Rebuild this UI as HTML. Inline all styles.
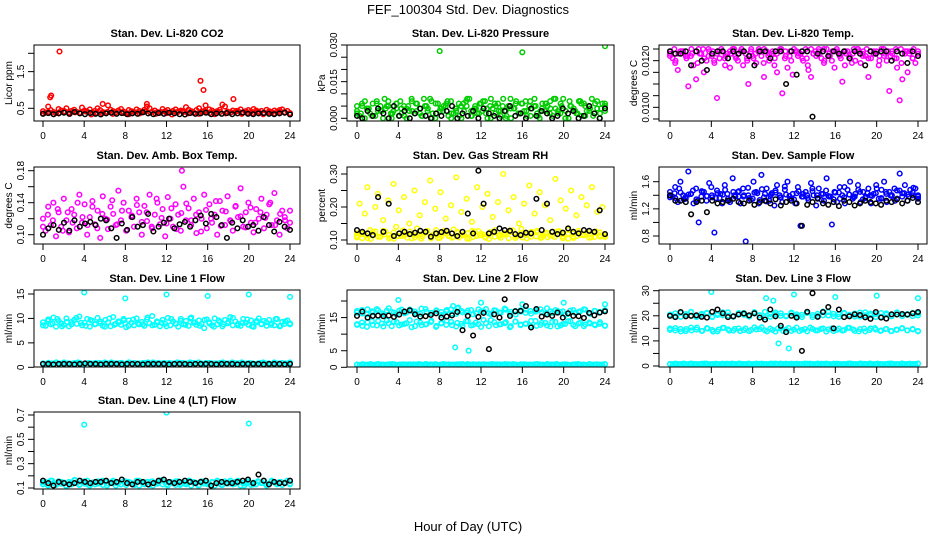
<!DOCTYPE html>
<html><head><meta charset="utf-8"><style>
html,body{margin:0;padding:0;background:#fff;}
svg{display:block;font-family:"Liberation Sans",Arial,sans-serif;}
.pt{fill:none;stroke-width:1.5;}
</style></head><body>
<svg id="chart" width="936" height="540" viewBox="0 0 936 540">
<rect width="936" height="540" fill="#fff"/>
<text x="468" y="14" text-anchor="middle" font-size="13">FEF_100304  Std. Dev. Diagnostics</text>
<text x="468" y="531" text-anchor="middle" font-size="13">Hour of Day (UTC)</text>
</svg>
<script>
// ---------- data (hours implied evenly 0..24 by index) ----------
const xTicks = [0,4,8,12,16,20,24];
const xTickLabels = ["0","4","8","12","16","20","24"];

const co2Red = [.42,.38,.55,.45,.40,.37,.48,.44,.41,.50,.39,.43,.46,.40,.38,.52,.44,.41,.47,.39,.43,.50,.45,.40,.38,.58,.46,.42,.39,.44,.48,.41,.37,.45,.42,.40,.47,.43,.39,.46,.55,.50,.41,.44,.40,.38,.48,.42,.45,.39,.43,.47,.41,.44,.40,.53,.46,.42,.38,.45,.50,.41,.43,.39,.47,.44,.40,.42,.46,.60,.55,.41,.38,.44,.40,.43,.47,.39,.42,.45,.41,.48,.44,.40,.43,.38,.46,.42,.39,.44,.41,.45,.47,.40,.43,.37];
const co2Red2 = [.36,.40,.34,.38,.42,.35,.39,.37,.41,.33,.38,.36,.40,.35,.43,.37,.34,.39,.36,.41,.38,.35,.40,.37,.33,.39,.42,.36,.38,.35,.41,.37,.34,.40,.36,.39,.43,.35,.38,.37,.41,.34,.39,.36,.40,.38,.35];
const co2RedOutHours = [1.6,0.8,0.7,15.3,15.6,18.5,5.8,10.1,15.8];
const co2RedOutVals  = [2.05,0.85,0.80,1.25,1.00,0.75,0.62,0.62,0.58];
const co2Black = [.35,.37,.34,.36,.38,.35,.40,.36,.34,.37,.35,.33,.36,.38,.35,.37,.34,.36,.35,.39,.36,.34,.37,.35,.38,.36,.34,.33,.37,.35,.36,.38,.34,.36,.35,.37,.34,.36,.38,.35,.34,.36,.37,.35,.34,.36,.38,.33];

const presGreen = [3,1,5,0,4,2,6,1,3,5,0,4,7,2,3,6,1,4,5,0,3,7,2,6,4,1,5,3,8,2,0,6,4,3,5,1,7,2,4,6,0,3,5,8,1,4,2,6,3,7,0,5,4,2,6,1,8,3,5,0,4,7,2,6,3,1,5,4,8,2,0,6,3,5,7,1,4,2,6,8,3,0,5,4,2,7,1,6,3,5,8,2,4,0,6,3].map(v=>v*0.001);
const presGreen2 = [5,2,7,4,1,6,3,8,5,2,4,7,1,5,3,6,2,8,4,0,6,3,5,7,2,4,1,6,8,3,5,2,7,4,0,6,3,5,1,8,4,2,6,3,7,5,1,4,6,2,8,3,5,0,7,4,2,6,5,3,1,7,4,6].map(v=>v*0.001);
const presGreen3 = [2,6,4,1,7,3,5,0,6,2,4,8,3,1,5,7,2,4,6,0,3,5,7,1,4,6,2,8,5,3,0,4,6,2,7,1,5,3,6,4,8,2,0,5,3,7,1,4,6,2,5].map(v=>v*0.001);
const presGreenOutHours = [8,16,24];
const presGreenOutVals  = [0.0275,0.027,0.0295];
const presBlack = [1,0,3,1,4,2,0,5,1,3,0,2,4,1,0,2,1,3,5,0,2,1,3,0,4,2,1,0,3,5,1,2,0,4,1,3,2,0,1,4,2,3,0,1,5,2,0,4].map(v=>v*0.001);

const tempMag = [123,121,119,116,124,124,122,109,122,118,112,125,123,115,120,124,122,119,104,121,124,121,123,117,125,122,120,124,118,123,110,124,121,119,125,122,113,124,120,123,118,115,124,106,121,117,124,114,124,122,123,120,125,116,113,123,122,124,121,119,125,123,120,117,124,122,111,118,124,121,123,120,125,119,124,122,113,121,123,124,118,125,122,120,107,124,121,117,103,112,123,115,124,121,119,122].map(v=>v*0.0001);
const tempMag2 = [124,125,123,124,122,125,124,123,121,125,124,123,125,122,124,125,123,124,121,125,123,124,125,122,124,123,125,124,122,125,123,124,121,125,124,123,125,122,124,125,123,124,122,125,124,123,125,124,123,122,125,124,123,121,125,124,123,125,124].map(v=>v*0.0001);
const tempMag3 = [122,120,124,121,123,119,125,122,120,124,118,123,121,125,120,122,124,119,123,121,125,122,120,124,121,118,123,125,120,122,124,121,123,119,125,122,121,124,120,123,122,125,119,124,121,123].map(v=>v*0.0001);
const tempBlack = [124,123,123,124,118,124,120,116,123,124,124,121,124,123,124,122,118,124,124,121,124,124,110,124,114,124,124,96,123,124,122,124,123,124,121,124,123,118,124,123,124,124,120,124,123,119,124,122].map(v=>v*0.0001);

const boxMag = [120,105,135,112,140,98,128,110,145,118,103,132,125,108,150,115,138,100,122,142,113,130,96,148,120,107,135,126,112,155,118,140,105,130,122,110,145,128,100,136,117,150,108,125,140,113,132,98,147,120,110,138,125,105,160,118,133,112,145,102,128,120,150,108,138,115,125,100,142,130,112,148,118,105,135,122,158,110,128,140,115,103,132,120,145,108,125,138,112,152,118,100,130,122,108,115].map(v=>v*0.001);
const boxMag2 = [110,125,118,132,105,128,115,140,122,112,135,108,126,119,143,113,130,106,124,137,116,128,110,145,121,114,133,107,127,139,118,125,104,131,120,142,111,129,117,136,123,109,134,115,128,121,140,112,126,118,130].map(v=>v*0.001);
const boxMagOutHours = [13.5];
const boxMagOutVals = [0.180];
const boxBlack = [100,108,112,106,115,105,118,110,114,116,112,120,118,108,96,114,106,122,110,112,126,104,110,115,120,108,113,116,110,118,124,114,126,122,112,96,115,108,118,110,112,105,122,112,104,116,110,106].map(v=>v*0.001);

const rhYellow = [120,210,105,180,260,130,115,200,240,110,160,125,220,108,270,140,190,112,230,118,150,105,250,135,175,110,215,128,280,115,195,106,245,122,165,112,205,132,290,108,185,118,225,104,155,126,260,114,200,109,240,120,170,130,215,107,300,116,190,124,230,111,150,134,210,105,265,119,180,128,245,113,205,108,160,125,285,117,220,110,195,131,250,106,175,121,230,114,205,127,260,109,185,123,200,112].map(v=>v*0.001);
const rhYellowLow = [112,118,106,124,110,128,115,104,120,113,126,108,117,122,105,130,111,119,107,125,114,121,109,127,116,103,123,112,118,129,106,120,115,110,124,108,122,113,126,105,119,111,128,116,107,121,114,109].map(v=>v*0.001);
const rhYellowLow2 = [108,121,114,103,126,110,117,105,123,112,129,107,118,115,104,125,111,120,106,128,113,109,122,116,104,127,112,119,107,124,110,115,121,105,129,113,108,118,125,111,106,122,114,109,127,117,104,120,112,115,123,108,126,110,118].map(v=>v*0.001);
const rhBlack = [130,125,120,115,230,125,210,112,120,125,118,122,128,125,110,120,124,128,120,112,125,180,120,310,210,120,125,135,130,128,118,115,122,120,225,130,210,125,118,122,135,125,120,130,128,125,190,118].map(v=>v*0.001);

const flowBlue = [145,138,152,130,160,140,135,175,142,128,150,100,138,145,132,158,140,85,147,136,128,155,142,130,165,138,145,128,150,72,140,133,160,145,128,170,137,150,132,143,125,155,140,130,148,160,135,142,128,152,95,138,145,133,158,140,125,150,142,132,165,138,97,145,130,152,140,128,148,160,135,142,155,130,145,138,150,128,142,155,135,148,160,130,145,140,150,135,172,143,155,132,148,140,150,138].map(v=>v*0.01);
const flowBlueBand = [140,136,144,138,142,134,146,139,137,143,141,135,145,138,140,136,144,133,142,139,147,137,141,135,143,138,140,146,136,142,139,134,144,137,141,138,145,136,140,143,135,142,139,147,138,141,144,140].map(v=>v*0.01);
const flowBlueBand2 = [137,143,150,134,141,147,132,145,139,152,136,142,148,133,140,146,138,151,135,143,149,131,141,144,137,153,139,134,146,142,136,150,140,133,147,138,144,135,152,141,137,148,134,143,139,150,136,145,140,132,147,143,138,151,135].map(v=>v*0.01);
const flowBlack = [140,132,132,130,112,130,132,115,132,128,130,132,135,130,128,132,126,130,132,128,134,125,130,132,128,95,126,130,135,128,126,130,124,132,130,125,128,132,130,128,126,132,130,134,128,132,136,130].map(v=>v*0.01);

const line1Cyan = [92,85,98,88,102,83,95,90,87,100,84,93,97,89,104,86,91,99,83,95,88,101,90,85,97,92,84,103,89,94,87,99,82,96,91,86,100,88,93,85,98,90,105,87,92,84,97,89,101,86,94,90,83,99,88,95,85,102,91,87,96,89,80,98,92,86,100,88,93,84,97,90,103,86,94,89,85,99,91,87,96,83,92,100,88,95,85,97,90,86,99,84,93,89,96,88].map(v=>v*0.1);
const line1Cyan2 = [86,95,90,99,84,93,88,101,91,85,97,89,94,83,100,87,92,96,85,98,90,88,102,86,94,91,84,99,89,95,87,100,92,85,97,90,83,96,88,93,101,86,91,98,84,95,89,92,87,99,85,94,90].map(v=>v*0.1);
const line1CyanOutHours = [4,8,12,16,20,24];
const line1CyanOutVals = [15.3,14.1,14.9,14.6,14.9,14.4];
const line1CyanLow = [0.8,0.9,0.7,0.8,1.0,0.8,0.7,0.9,0.8,0.8,0.9,0.7,0.8,1.0,0.8,0.9,0.7,0.8,0.8,0.9,1.0,0.7,0.8,0.9,0.8,0.7,0.9,0.8,1.0,0.8,0.7,0.9,0.8,0.8,0.9,0.7,1.0,0.8,0.9,0.8,0.7,0.8,0.9,0.8,1.0,0.7,0.8,0.9];
const cyanLowDense = [0.8,0.7,0.9,0.8,0.8,1.0,0.7,0.8,0.9,0.8,0.7,0.8,0.9,1.0,0.8,0.7,0.8,0.9,0.8,0.8,0.7,0.9,0.8,1.0,0.8,0.7,0.9,0.8,0.8,0.9,0.7,0.8,1.0,0.8,0.9,0.7,0.8,0.8,0.9,0.8,0.7,1.0,0.8,0.9,0.8,0.7,0.8,0.9,0.8,0.8,1.0,0.7,0.9,0.8,0.8,0.7,0.9,0.8,1.0,0.8,0.7,0.8,0.9,0.8,0.8,0.7,0.9,1.0,0.8,0.8,0.7,0.9,0.8,0.8,1.0,0.7,0.8,0.9,0.8,0.7,0.8,0.9,1.0,0.8,0.8,0.7,0.9,0.8,0.8,0.9,0.7,0.8,1.0];
const line1Black = [0.7,0.7,0.6,0.7,0.7,0.7,0.6,0.7,0.8,0.7,0.7,0.6,0.7,0.7,0.7,0.6,0.7,0.7,0.7,0.6,0.7,0.7,0.7,0.7,0.6,0.7,0.7,0.7,0.6,0.7,0.7,0.7,0.7,0.6,0.7,0.7,0.7,0.6,0.7,0.7,0.7,0.7,0.6,0.7,0.7,0.7,0.6,0.7];

const line2CyanA = [17.0,16.2,17.5,16.6,17.2,16.0,17.8,16.5,17.1,16.3,17.4,16.8,16.1,17.6,16.4,17.0,16.7,17.3,16.2,17.9,16.6,17.1,16.0,17.5,16.9,16.3,17.2,16.5,17.7,16.1,17.0,16.8,17.4,16.2,17.1,16.6,17.8,16.4,17.0,16.9,16.1,17.3,16.7,17.5,16.3,17.0,16.6,17.2];
const line2CyanA2 = [16.5,17.3,16.0,16.9,17.6,16.3,17.1,16.7,15.9,17.4,16.6,17.0,16.2,17.7,16.8,16.4,17.2,15.8,16.9,17.5,16.1,17.0,16.6,17.3,16.3,16.9,17.6,16.0,17.1,16.5,17.4,16.7,15.9,17.2,16.4,17.0,16.8,17.5,16.2,16.9,17.3,16.6,15.8,17.1,16.4,16.9,17.4,16.1,17.0,16.7,17.2];
const line2CyanB = [13.0,12.5,13.6,12.8,14.0,12.3,13.3,13.8,12.6,13.1,14.2,12.4,13.5,12.9,13.7,12.2,13.2,14.1,12.7,13.4,12.5,13.9,12.8,13.0,14.3,12.4,13.6,12.9,13.3,12.1,13.8,12.7,13.1,14.0,12.5,13.4,12.6,13.7,12.3,13.0,13.9,12.8,13.2,12.4,13.5,12.9,13.1,12.6];
const line2CyanB2 = [12.8,13.5,12.2,13.9,12.6,13.2,14.1,12.4,13.6,12.9,13.3,12.1,13.8,12.7,13.0,14.0,12.5,13.4,12.8,13.7,12.3,13.1,13.9,12.6,13.5,12.2,13.3,14.2,12.7,13.0,13.6,12.4,13.8,12.9,13.2,12.5,14.0,12.8,13.4,12.3,13.7,12.6,13.1,13.9,12.4,13.5,12.9,13.2,12.7,13.6,12.5];
const line2CyanOutHours = [4,9.3,9.8,12,16,20,24,9.5,10.8];
const line2CyanOutVals = [20.3,18.5,18.0,19.5,19.0,19.5,19.0,6.0,5.0];
const line2Black = [15.5,16.8,15.0,15.5,15.6,15.4,15.6,15.2,15.9,16.8,17.2,16.0,15.3,15.4,15.8,16.3,15.0,15.3,15.7,16.7,11.2,15.5,9.6,15.2,16.4,5.5,16.0,15.0,20.5,15.5,16.9,17.0,18.5,12.0,17.6,15.3,15.9,15.5,16.5,15.0,16.3,15.5,15.4,14.9,16.4,15.7,16.5,16.9];

const line3CyanA = [20.5,19.8,21.2,20.0,21.6,19.5,20.8,21.0,19.7,20.3,21.4,20.1,19.6,21.1,20.4,19.9,21.5,20.2,19.4,20.7,21.3,20.0,19.8,21.0,20.6,19.5,21.2,20.3,19.9,21.7,20.1,20.8,19.6,21.0,20.4,19.7,21.3,20.2,20.9,19.5,21.1,20.5,19.8,21.4,20.0,20.7,19.9,21.0];
const line3CyanA2 = [20.1,21.0,19.6,20.7,21.5,19.9,20.4,21.2,19.5,20.8,20.2,21.4,19.8,20.5,21.1,19.7,20.9,20.3,21.6,19.6,20.6,21.0,20.0,21.3,19.9,20.4,21.1,19.5,20.8,20.2,21.5,19.8,20.6,21.2,20.0,20.9,19.7,21.4,20.3,20.7,19.6,21.0,20.5,21.3,19.9,20.4,21.1,20.1];
const line3CyanB = [15.0,14.2,14.8,13.9,15.3,14.5,14.0,15.1,14.4,13.8,15.2,14.6,14.1,15.0,14.3,13.9,15.4,14.7,14.2,14.9,13.7,15.1,14.5,14.0,15.3,14.4,13.8,14.8,14.2,15.0,14.6,13.9,14.9,14.3,15.2,14.0,14.7,13.8,15.0,14.5,14.1,14.8,13.9,14.4,15.1,14.2,14.6,14.0];
const line3CyanB2 = [14.4,15.1,13.8,14.7,14.2,15.3,14.0,14.9,13.7,14.5,15.2,14.1,14.8,13.9,15.0,14.3,14.6,15.4,13.8,14.4,14.9,14.0,15.1,14.5,13.9,14.7,15.3,14.2,14.8,13.7,15.0,14.4,14.1,15.2,14.6,13.8,14.9,14.3,15.1,14.0,14.7,13.9,14.5,15.0,14.2,14.8,13.8];
const line3CyanOutHours = [4,9.3,10,10.5,11.5,12,16,20,24];
const line3CyanOutVals = [29.5,27.0,26.0,9.0,7.0,28.5,27.5,28.0,27.0];
const line3Black = [20.0,19.5,21.5,19.8,20.0,20.2,19.6,19.3,21.6,22.5,21.0,19.5,19.8,20.5,20.9,20.2,21.0,19.3,18.5,22.5,19.8,16.0,13.5,20.0,19.3,6.0,21.6,29.0,19.6,21.5,23.5,15.0,22.5,19.5,19.8,20.6,20.3,19.4,18.8,21.5,19.3,18.9,20.6,20.5,20.7,20.5,21.0,21.5];

const line4Cyan = [130,150,120,160,140,125,155,135,145,115,150,130,165,140,125,150,135,160,120,145,130,155,140,125,150,135,145,160,120,140,130,155,125,150,140,135,160,120,145,130,150,125,155,140,135,160,130,145,120,150,140,125,155,135,145,130,160,120,150,140,125,155,135,145,130,150,120,160,140,125,155,135,145,130,150,160,120,140,135,155,125,145,130,150,140,160,120,135,155,145,130,150,125,140,160,135].map(v=>v*0.001);
const line4Cyan2 = [145,125,160,135,150,120,140,165,130,155,125,145,135,160,120,150,140,130,155,145,125,160,135,150,120,140,165,130,145,155,125,135,160,140,120,150,130,145,155,125,140,160,135,150,120,145,130,155,140,125,160,135,150,145,130].map(v=>v*0.001);
const line4CyanOutHours = [4,12,20];
const line4CyanOutVals = [0.62,0.72,0.63];
const line4Black = [0.16,0.14,0.12,0.15,0.14,0.13,0.14,0.16,0.15,0.14,0.15,0.15,0.16,0.14,0.15,0.17,0.14,0.13,0.15,0.15,0.13,0.14,0.16,0.17,0.15,0.14,0.15,0.16,0.15,0.14,0.15,0.16,0.12,0.14,0.15,0.14,0.14,0.15,0.16,0.17,0.14,0.21,0.16,0.13,0.15,0.14,0.14,0.16];

// ---------- layout ----------
const colL=[34,347,659], colR=[300,614,927], col0=[43,357,670], col24=[290,605,918];
const rowT=[45,167,290,412], rowB=[121,244,367,489];
const C={red:"#ff0000",green:"#00cc00",mag:"#ff00ff",yel:"#ffff00",blue:"#0000ff",cyan:"#00ffff",blk:"#000000"};

const panels=[
 {name:"co2",title:"Stan. Dev. Li-820 CO2",ylab:"Licor ppm",c:0,r:0,a:[2.0,53.3],b:[0.5,108.3],ticks:[0.5,1,1.5,2],tl:["0.5","","1.5",""],
  series:[[co2Red,C.red],[co2Red2,C.red],[co2Black,C.blk]],out:[[co2RedOutHours,co2RedOutVals,C.red]]},
 {name:"pressure",title:"Stan. Dev. Li-820 Pressure",ylab:"kPa",c:1,r:0,a:[0.03,45],b:[0,118.3],ticks:[0,0.005,0.01,0.015,0.02,0.025,0.03],tl:["0.000","","","0.015","","","0.030"],
  series:[[presGreen,C.green],[presGreen2,C.green],[presGreen3,C.green],[presBlack,C.blk]],out:[[presGreenOutHours,presGreenOutVals,C.green]]},
 {name:"temp",title:"Stan. Dev. Li-820 Temp.",ylab:"degrees C",c:2,r:0,a:[0.0125,49],b:[0.0095,119],ticks:[0.0095,0.01,0.0105,0.011,0.0115,0.012,0.0125],tl:["","0.0100","","","","0.0120",""],
  series:[[tempMag,C.mag],[tempMag2,C.mag],[tempMag3,C.mag],[tempBlack,C.blk]],out:[]},
 {name:"box-temp",title:"Stan. Dev. Amb. Box Temp.",ylab:"degrees C",c:0,r:1,a:[0.18,170.7],b:[0.10,234.7],ticks:[0.10,0.12,0.14,0.16,0.18],tl:["0.10","","0.14","","0.18"],
  series:[[boxMag,C.mag],[boxMag2,C.mag],[boxBlack,C.blk]],out:[[boxMagOutHours,boxMagOutVals,C.mag]]},
 {name:"rh",title:"Stan. Dev. Gas Stream RH",ylab:"percent",c:1,r:1,a:[0.30,174],b:[0.10,240],ticks:[0.10,0.15,0.20,0.25,0.30],tl:["0.10","","0.20","","0.30"],
  series:[[rhYellow,C.yel],[rhYellowLow,C.yel],[rhYellowLow2,C.yel],[rhBlack,C.blk]],out:[]},
 {name:"sample-flow",title:"Stan. Dev. Sample Flow",ylab:"ml/min",c:2,r:1,a:[1.6,181.7],b:[0.8,236],ticks:[0.8,1.0,1.2,1.4,1.6],tl:["0.8","","1.2","","1.6"],
  series:[[flowBlue,C.blue],[flowBlueBand,C.blue],[flowBlueBand2,C.blue],[flowBlack,C.blk]],out:[]},
 {name:"line1",title:"Stan. Dev. Line 1 Flow",ylab:"ml/min",c:0,r:2,a:[15,294],b:[0,367.3],ticks:[0,5,10,15],tl:["0","5","10","15"],
  series:[[line1Cyan,C.cyan],[line1Cyan2,C.cyan],[line1CyanLow,C.cyan],[cyanLowDense,C.cyan],[line1Black,C.blk]],out:[[line1CyanOutHours,line1CyanOutVals,C.cyan]]},
 {name:"line2",title:"Stan. Dev. Line 2 Flow",ylab:"ml/min",c:1,r:2,a:[20,301],b:[0,367.3],ticks:[0,5,10,15,20],tl:["0","5","","15",""],
  series:[[line2CyanA,C.cyan],[line2CyanA2,C.cyan],[line2CyanB,C.cyan],[line2CyanB2,C.cyan],[line1CyanLow,C.cyan],[cyanLowDense,C.cyan],[line2Black,C.blk]],out:[[line2CyanOutHours,line2CyanOutVals,C.cyan]]},
 {name:"line3",title:"Stan. Dev. Line 3 Flow",ylab:"ml/min",c:2,r:2,a:[30,290.7],b:[0,366],ticks:[0,5,10,15,20,25,30],tl:["0","","10","","20","","30"],
  series:[[line3CyanA,C.cyan],[line3CyanA2,C.cyan],[line3CyanB,C.cyan],[line3CyanB2,C.cyan],[line1CyanLow,C.cyan],[cyanLowDense,C.cyan],[line3Black,C.blk]],out:[[line3CyanOutHours,line3CyanOutVals,C.cyan]]},
 {name:"line4",title:"Stan. Dev. Line 4 (LT) Flow",ylab:"ml/min",c:0,r:3,a:[0.7,415],b:[0.1,488],ticks:[0.1,0.2,0.3,0.4,0.5,0.6,0.7],tl:["0.1","","0.3","","0.5","","0.7"],
  series:[[line4Cyan,C.cyan],[line4Cyan2,C.cyan],[line4Black,C.blk]],out:[[line4CyanOutHours,line4CyanOutVals,C.cyan]]}
];

const svg=document.getElementById('chart');
const NS="http://www.w3.org/2000/svg";
function mk(tag,attrs,parent){const e=document.createElementNS(NS,tag);for(const k in attrs)e.setAttribute(k,attrs[k]);(parent||svg).appendChild(e);return e;}
const defs=mk('defs',{});

panels.forEach((p,pi)=>{
  const L=colL[p.c],R=colR[p.c],T=rowT[p.r],B=rowB[p.r];
  const xs=h=>col0[p.c]+(col24[p.c]-col0[p.c])*h/24;
  const ys=v=>p.b[1]+(p.a[1]-p.b[1])*(v-p.b[0])/(p.a[0]-p.b[0]);
  const g=mk('g',{});
  
  
  const cp=mk('clipPath',{id:'cp'+pi},defs);
  mk('rect',{x:L,y:T,width:R-L,height:B-T},cp);
  const t=mk('text',{x:(L+R)/2,y:T-8,'text-anchor':'middle','font-size':'11','font-weight':'bold'},g);
  t.textContent=p.title;
  
  
  const pg=mk('g',{'clip-path':'url(#cp'+pi+')'},g);
  
  
  const colored=p.series.filter(s=>s[1]!==C.blk), blacks=p.series.filter(s=>s[1]===C.blk);
  const drawArr=(arr,col)=>{const n=arr.length;arr.forEach((v,i)=>{
    const c=mk('circle',{cx:xs(i*24/(n-1)).toFixed(1),cy:ys(v).toFixed(1),r:2.3,class:'pt',stroke:col},pg);
    
    });};
  colored.forEach(s=>drawArr(s[0],s[1]));
  p.out.forEach(o=>o[0].forEach((h,i)=>{
    const c=mk('circle',{cx:xs(h).toFixed(1),cy:ys(o[1][i]).toFixed(1),r:2.3,class:'pt',stroke:o[2]},pg);
    
    }));
  blacks.forEach(s=>drawArr(s[0],s[1]));
  const bx=mk('rect',{x:L,y:T,width:R-L,height:B-T,fill:'none',stroke:'#000','stroke-width':1},g);
  
  
  const xa=mk('g',{},g);
  
  
  xTicks.forEach((h,i)=>{const x=xs(h);
    mk('line',{x1:x,x2:x,y1:B,y2:B+6,stroke:'#000'},xa);
    const tt=mk('text',{x:x,y:B+18,'text-anchor':'middle','font-size':'10'},xa);tt.textContent=xTickLabels[i];});
  const ya=mk('g',{},g);
  
  
  p.ticks.forEach((v,i)=>{const y=ys(v);
    mk('line',{x1:L-6,x2:L,y1:y,y2:y,stroke:'#000'},ya);
    if(p.tl[i]){const tt=mk('text',{x:0,y:0,'text-anchor':'middle','font-size':'10',transform:`translate(${L-10},${y}) rotate(-90)`},ya);tt.textContent=p.tl[i];}});
  const yl=mk('text',{x:0,y:0,'text-anchor':'middle','font-size':'10',transform:`translate(${L-22},${(T+B)/2}) rotate(-90)`},g);
  yl.textContent=p.ylab;
  
  
});
</script>
</body></html>
